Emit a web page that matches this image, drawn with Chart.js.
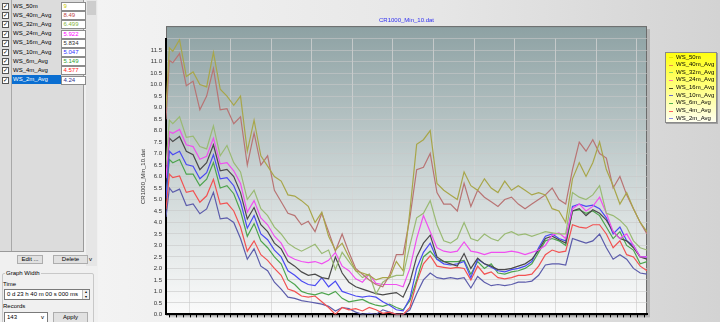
<!DOCTYPE html>
<html>
<head>
<meta charset="utf-8">
<title>CR1000_Min_10.dat</title>
<script src="https://cdn.jsdelivr.net/npm/chart.js@4.4.1/dist/chart.umd.min.js"></script>
<style>
  html, body { margin: 0; padding: 0; }
  body { width: 720px; height: 322px; overflow: hidden; position: relative; background: #f0f0f0;
         font-family: "Liberation Sans", Arial, sans-serif; font-size: 6px; color: #000; }
  .abs { position: absolute; }
  #side { left: 0; top: 0; width: 98px; height: 322px; background: #f0f0f0; }
  #list { left: 0; top: 0; width: 84px; height: 252px; background: #dcdcdc;
          border-right: 1px solid #9a9a9a; border-bottom: 1px solid #9a9a9a; box-sizing: border-box; }
  #list .sep { top: 0; width: 1px; height: 251px; background: #a8a8a8; }
  .row { left: 0; width: 84px; height: 9px; }
  .chk { left: 1.5px; top: 1.5px; width: 5px; height: 5px; background: #fff; border: 1px solid #555;
         font-size: 6px; line-height: 5px; text-align: center; }
  .name { left: 12px; top: 0; width: 48px; height: 9px; line-height: 9px; padding-left: 1px; white-space: nowrap; }
  .name.sel { background: #0a6ed1; color: #fff; }
  .val { left: 61px; top: 0.5px; width: 21px; height: 7px; background: #fff; border: 1px solid #8c8c8c;
         line-height: 7px; padding-left: 1.5px; box-sizing: content-box; white-space: nowrap; }
  #scroll { left: 86px; top: 0; width: 11px; height: 266px; background: #e6e6e6; }
  #thumb { left: 1px; top: 1px; width: 9px; height: 14px; background: #cdcdcd; }
  .btn { height: 7px; line-height: 7px; text-align: center; background: #e1e1e1; border: 1px solid #adadad; }
  #grp { left: 2px; top: 273px; width: 90px; height: 60px; border: 1px solid #c8c8c8; border-radius: 2px; }
  .lbl { white-space: nowrap; }
  .box { background: #fff; border: 1px solid #7a7a7a; height: 9px; line-height: 9px; white-space: nowrap; }
  #plot { left: 98px; top: 0; width: 622px; height: 322px;
          background: linear-gradient(to right, #f3f3f3 0%, #e6e6e6 55%, #d3d3d3 100%); }
  #legend { left: 567px; top: 52px; width: 50px; height: 69px; border: 1px solid #8a8a8a;
            background: linear-gradient(to bottom, #ffff10 0%, #ffff80 50%, #fffff0 100%);
            box-shadow: 1px 1px 0 #a0a0a0; }
  .li { left: 2px; height: 7.6px; line-height: 7.6px; white-space: nowrap; font-size: 6px; }
  .mk { position: absolute; left: 1px; top: 3.5px; width: 4px; height: 1px; }
  .lt { position: absolute; left: 8px; top: 0; }
</style>
</head>
<body>
<div id="side" class="abs">
  <div id="list" class="abs">
    <div class="sep abs" style="left:11px"></div>
  </div>
  <div id="scroll" class="abs"><div id="thumb" class="abs"></div>
    <div class="abs" style="left:3px;top:256px;font-size:6px">v</div></div>
  <div class="btn abs" style="left:17px;top:255px;width:24px">Edit ...</div>
  <div class="btn abs" style="left:53px;top:255px;width:33px">Delete</div>
  <div id="grp" class="abs"></div>
  <div class="lbl abs" style="left:5px;top:270px;background:#f0f0f0;padding:0 1px">Graph Width</div>
  <div class="lbl abs" style="left:3px;top:281px">Time</div>
  <div class="box abs" style="left:4px;top:289px;width:82px;padding-left:2px">0 d 23 h 40 m 00 s 000 ms
    <div class="abs" style="right:0;top:0;width:6px;height:9px;background:#f0f0f0;border-left:1px solid #bbb;font-size:4px;line-height:4.5px;text-align:center">▴<br>▾</div></div>
  <div class="lbl abs" style="left:3px;top:303px">Records</div>
  <div class="box abs" style="left:4px;top:312px;width:40px;padding-left:2px">143
    <div class="abs" style="right:3px;top:0;font-size:6px">v</div></div>
  <div class="btn abs" style="left:53px;top:312px;width:33px;height:9px;line-height:9px">Apply</div>
</div>
<div id="plot" class="abs">
  <canvas id="chart" width="622" height="322"></canvas>
  <div id="legend" class="abs"></div>
</div>
<script>
// record numbers (10 min each) at which the values were read
const recIdx = [0, 1].concat(Array.from({ length: 71 }, (_, k) => 2 + 2 * k));

const seriesNames = ["WS_50m", "WS_40m_Avg", "WS_32m_Avg", "WS_24m_Avg", "WS_16m_Avg",
                     "WS_10m_Avg", "WS_6m_Avg", "WS_4m_Avg", "WS_2m_Avg"];
const listValues = ["9", "8.49", "6.499", "5.922", "5.834", "5.047", "5.149", "4.577", "4.24"];

const ws50 = [9.0, 11.6,
  11.45, 11.95, 10.35, 10.55, 10.0, 9.9, 11.4, 9.8, 9.5, 9.1, 9.5,
  7.1, 8.45, 6.9, 6.45, 6.0, 5.8, 5.2, 5.15, 4.95, 4.7, 4.0, 4.45,
  3.4, 2.8, 3.1, 2.5, 1.9, 1.8, 1.7, 1.5, 1.6, 1.6, 2.3, 1.9,
  4.5, 7.4, 7.6, 8.0, 5.7, 5.4, 5.2, 5.0, 6.2, 5.6, 5.4, 5.9,
  5.5, 5.3, 5.8, 5.4, 5.6, 5.4, 5.2, 5.3, 5.2, 4.6, 4.5, 4.0,
  5.9, 6.6, 6.0, 6.6, 7.5, 6.3, 5.6, 4.8, 5.3, 4.6, 4.0, 3.6];
const ws40 = [8.49, 11.05,
  10.95, 11.35, 9.95, 10.15, 8.9, 9.5, 10.7, 8.9, 8.95, 8.3, 8.6,
  6.5, 7.9, 6.5, 6.9, 5.4, 4.9, 4.4, 4.3, 3.9, 4.05, 3.6, 4.4,
  3.6, 2.75, 3.5, 2.7, 2.0, 1.75, 1.5, 1.3, 1.2, 1.7, 2.6, 2.6,
  4.2, 6.3, 6.4, 7.0, 5.3, 4.8, 4.8, 4.5, 5.7, 4.7, 5.4, 5.1,
  4.9, 4.7, 5.0, 5.1, 4.8, 4.6, 4.8, 5.0, 5.2, 5.5, 5.0, 4.8,
  6.3, 7.5, 7.1, 7.6, 7.0, 6.8, 5.5, 6.0, 5.2, 4.6, 4.0, 3.5];
const ws32 = [6.499, 8.45,
  8.3, 8.6, 7.7, 7.75, 7.3, 7.2, 8.2, 6.9, 7.35, 6.6, 6.2,
  5.0, 5.4, 4.6, 4.3, 3.8, 3.5, 3.1, 2.9, 2.75, 2.9, 3.05, 2.65,
  2.8, 1.95, 2.7, 2.3, 1.9, 1.6, 1.75, 0.9, 1.4, 1.6, 1.7, 1.7,
  3.0, 4.2, 4.4, 4.95, 3.9, 3.2, 3.1, 3.3, 4.0, 3.3, 3.2, 3.5,
  3.3, 3.2, 3.5, 3.6, 3.45, 3.5, 3.4, 3.5, 3.6, 3.55, 3.5, 3.5,
  5.3, 5.1, 5.0, 5.2, 5.6, 4.4, 4.3, 4.1, 3.8, 3.2, 2.9, 2.8];
const ws24 = [5.922, 7.95,
  7.88, 8.05, 7.38, 7.3, 6.75, 6.88, 7.67, 6.55, 6.6, 6.25, 5.7,
  4.45, 4.95, 4.2, 3.9, 3.4, 3.1, 2.55, 2.4, 2.3, 2.25, 2.3, 2.2,
  2.35, 2.69, 2.1, 1.9, 1.55, 1.4, 1.75, 1.35, 1.3, 1.3, 1.3, 1.2,
  2.0, 3.3, 4.3, 3.6, 2.9, 2.75, 2.7, 2.75, 3.15, 2.75, 2.7, 2.6,
  2.7, 2.7, 2.7, 2.75, 2.7, 2.6, 2.7, 2.8, 3.0, 3.45, 3.55, 3.3,
  4.6, 4.8, 4.5, 4.7, 5.1, 4.4, 3.6, 3.3, 3.5, 3.0, 2.5, 2.5];
const ws16 = [5.834, 7.67,
  7.52, 7.74, 7.1, 6.95, 6.3, 6.6, 7.38, 6.25, 6.31, 6.0, 5.3,
  4.15, 4.65, 3.9, 3.6, 3.1, 2.85, 2.3, 2.1, 1.85, 1.7, 1.75, 1.6,
  1.55, 2.5, 1.8, 1.4, 1.2, 1.1, 1.0, 0.9, 0.85, 0.9, 0.95, 0.75,
  1.4, 2.5, 3.1, 3.45, 2.5, 2.3, 2.2, 2.1, 2.65, 2.0, 2.45, 2.2,
  2.1, 1.95, 1.95, 2.0, 2.1, 2.2, 2.4, 2.8, 3.3, 3.4, 3.25, 3.1,
  4.5, 4.6, 4.3, 4.55, 4.4, 4.1, 3.6, 3.3, 3.2, 2.9, 2.5, 2.4];
const ws10 = [5.047, 7.1,
  6.95, 7.1, 6.52, 6.45, 5.9, 6.17, 6.95, 5.9, 5.95, 5.6, 4.9,
  3.75, 4.3, 3.5, 3.25, 2.8, 2.5, 1.9, 1.7, 1.45, 1.3, 1.25, 1.6,
  1.2, 1.45, 1.0, 0.9, 0.8, 0.75, 0.8, 0.75, 0.55, 0.4, 0.2, 0.15,
  0.7, 2.0, 2.7, 3.1, 2.4, 2.2, 2.15, 2.2, 2.3, 1.6, 2.4, 2.2,
  2.05, 1.9, 1.85, 1.95, 2.0, 2.1, 2.3, 2.9, 3.4, 3.5, 3.3, 3.2,
  4.7, 4.8, 4.7, 4.75, 4.6, 4.2, 3.5, 3.8, 3.2, 3.0, 2.5, 2.5];
const ws6 = [5.149, 6.74,
  6.6, 6.74, 6.1, 6.1, 5.6, 5.88, 6.6, 5.5, 5.6, 5.25, 4.5,
  3.4, 3.95, 3.2, 2.9, 2.5, 2.2, 1.5, 1.3, 1.0, 0.9, 0.85, 0.95,
  0.85, 1.0, 0.7, 0.55, 0.6, 0.65, 0.5, 0.4, 0.35, 0.45, 0.3, 0.2,
  0.6, 1.5, 2.5, 2.75, 2.4, 2.3, 2.3, 2.3, 2.35, 1.75, 2.3, 2.0,
  2.2, 1.8, 1.75, 1.85, 1.9, 2.0, 2.2, 2.7, 3.2, 3.3, 3.2, 3.0,
  4.5, 4.55, 4.4, 4.5, 4.3, 3.8, 3.3, 3.6, 3.0, 2.8, 2.2, 2.3];
const ws4 = [4.577, 6.1,
  5.95, 6.02, 5.31, 5.38, 4.88, 5.16, 5.88, 4.8, 4.85, 4.5, 3.8,
  2.75, 3.2, 2.6, 2.35, 2.0, 1.7, 1.1, 1.0, 0.8, 0.75, 0.8, 0.55,
  0.3, 0.0, 0.3, 0.2, 0.25, 0.15, 0.3, 0.2, 0.05, 0.1, 0.0, 0.0,
  0.3, 1.4, 2.2, 2.55, 2.1, 2.05, 2.0, 2.05, 2.0, 1.5, 2.1, 1.75,
  1.85, 1.6, 1.55, 1.6, 1.7, 1.7, 1.75, 2.1, 2.6, 2.8, 2.7, 2.75,
  3.9, 3.8, 3.75, 3.9, 3.9, 3.5, 2.9, 3.2, 2.6, 2.5, 2.1, 1.9];
const ws2 = [4.24, 5.5,
  5.31, 5.45, 4.74, 4.81, 4.38, 4.59, 5.31, 4.16, 4.2, 4.0, 3.3,
  2.4, 2.85, 2.1, 1.9, 1.4, 1.1, 0.75, 0.7, 0.6, 0.55, 0.5, 0.45,
  0.35, 0.15, 0.3, 0.25, 0.1, 0.0, 0.05, 0.0, 0.2, 0.1, 0.0, 0.0,
  0.2, 0.9, 1.5, 1.8, 1.6, 1.55, 1.6, 1.55, 1.6, 1.15, 1.65, 1.4,
  1.25, 1.3, 1.25, 1.3, 1.4, 1.4, 1.45, 1.7, 2.15, 2.2, 2.2, 2.15,
  3.3, 3.2, 3.1, 3.2, 3.5, 2.9, 2.4, 2.6, 2.4, 2.0, 1.8, 1.75];

const allSeries = [ws50, ws40, ws32, ws24, ws16, ws10, ws6, ws4, ws2];

// y axis ticks every 0.5, vertical grid every 2 hours (12 records)
const yTickStep = 0.5;
const xGridRecords = [7, 19, 31, 43, 55, 67, 79, 91, 103, 115, 127, 139];

const lineColors = ["#a8a64a", "#b87474", "#9aba74", "#f04ff0", "#4a4a4a",
                    "#4a4af2", "#4ea44e", "#f25252", "#5c5cab"];
const legendColors = ["#e6e600", "#e88a4a", "#8fd060", "#ff7ab0", "#4a4a20",
                      "#6a6ad0", "#50b050", "#ff6060", "#8c8ce6"];
const valueColors = ["#c8c800", "#c04848", "#86b43c", "#ff00ff", "#303030",
                     "#3030ff", "#30a030", "#ff2020", "#303090"];

// sidebar list
const list = document.getElementById("list");
seriesNames.forEach((name, k) => {
  const row = document.createElement("div");
  row.className = "row abs";
  row.style.top = (1.5 + k * 9.2) + "px";
  const sel = k === seriesNames.length - 1 ? " sel" : "";
  row.innerHTML =
    '<div class="chk abs">✓</div>' +
    '<div class="name abs' + sel + '">' + name + '</div>' +
    '<div class="val abs" style="color:' + valueColors[k] + '">' + listValues[k] + '</div>';
  list.appendChild(row);
});

// legend box
const legend = document.getElementById("legend");
seriesNames.forEach((name, k) => {
  const it = document.createElement("div");
  it.className = "li abs";
  it.style.top = (0.5 + k * 7.65) + "px";
  it.innerHTML = '<span class="mk" style="background:' + legendColors[k] + '"></span>' +
                 '<span class="lt">' + name + '</span>';
  legend.appendChild(it);
});

// plot panel: gradient background, frame and shadow
const plotPanel = {
  id: "plotPanel",
  beforeDraw(chart) {
    const { ctx, chartArea: a } = chart;
    const top = a.top - 12.5;
    ctx.save();
    ctx.fillStyle = "rgba(0,0,0,0.16)";
    ctx.fillRect(a.left + 3, top + 3, a.right - a.left, a.bottom - top);
    const g = ctx.createLinearGradient(0, top, 0, a.bottom);
    g.addColorStop(0, "#8da1a3");
    g.addColorStop(0.5, "#c9d3d3");
    g.addColorStop(1, "#fbfbfb");
    ctx.fillStyle = g;
    ctx.fillRect(a.left, top, a.right - a.left, a.bottom - top);
    ctx.strokeStyle = "#6c6c6c";
    ctx.lineWidth = 1;
    ctx.strokeRect(a.left + 0.5, top + 0.5, a.right - a.left - 1, a.bottom - top);
    ctx.restore();
  },
  afterDraw(chart) {
    // small tick marks under the time axis, every 20 minutes
    const { ctx, chartArea: a, scales: { x } } = chart;
    ctx.save();
    ctx.strokeStyle = "#000";
    ctx.lineWidth = 1;
    ctx.beginPath();
    for (let r = 1; r < 142; r += 2) {
      const px = Math.round(x.getPixelForValue(r)) + 0.5;
      ctx.moveTo(px, a.bottom);
      ctx.lineTo(px, a.bottom + 3);
    }
    ctx.stroke();
    ctx.restore();
  }
};

Chart.defaults.font.family = '"Liberation Sans", Arial, sans-serif';

new Chart(document.getElementById("chart").getContext("2d"), {
  type: "line",
  data: {
    datasets: allSeries.map((vals, k) => ({
      label: seriesNames[k],
      data: vals.map((v, j) => ({ x: recIdx[j], y: v })),
      borderColor: lineColors[k],
      borderWidth: 1.2,
      pointRadius: 0,
      tension: 0,
      fill: false
    }))
  },
  options: {
    responsive: false,
    animation: false,
    events: [],
    layout: { padding: { left: 40, right: 73, top: 16.4, bottom: 4 } },
    plugins: {
      legend: { display: false },
      tooltip: { enabled: false },
      title: {
        display: true,
        text: "CR1000_Min_10.dat",
        color: "#2e2ef0",
        fullSize: false,
        font: { size: 6, weight: "normal" },
        padding: { top: 0, bottom: 15 }
      }
    },
    scales: {
      x: {
        type: "linear",
        min: 0,
        max: 142,
        afterBuildTicks: (axis) => { axis.ticks = xGridRecords.map((v) => ({ value: v })); },
        ticks: { display: false },
        grid: { color: "rgba(212,212,212,0.75)", lineWidth: 1, drawTicks: false },
        border: { color: "#000", width: 2 }
      },
      y: {
        min: 0,
        max: 12,
        afterFit: (scale) => { scale.width = 28; },
        ticks: {
          stepSize: yTickStep,
          padding: 4,
          color: "#333",
          font: { size: 6 },
          callback: (v) => (v >= 12 ? "" : Number(v).toFixed(1))
        },
        grid: { color: "rgba(200,200,200,0.6)", lineWidth: 1, drawTicks: false },
        border: { color: "#000", width: 2 },
        title: {
          display: true,
          text: "CR1000_Min_10.dat",
          color: "#333",
          font: { size: 6 },
          padding: { top: 2, bottom: 0 }
        }
      }
    }
  },
  plugins: [plotPanel]
});
</script>
</body>
</html>
